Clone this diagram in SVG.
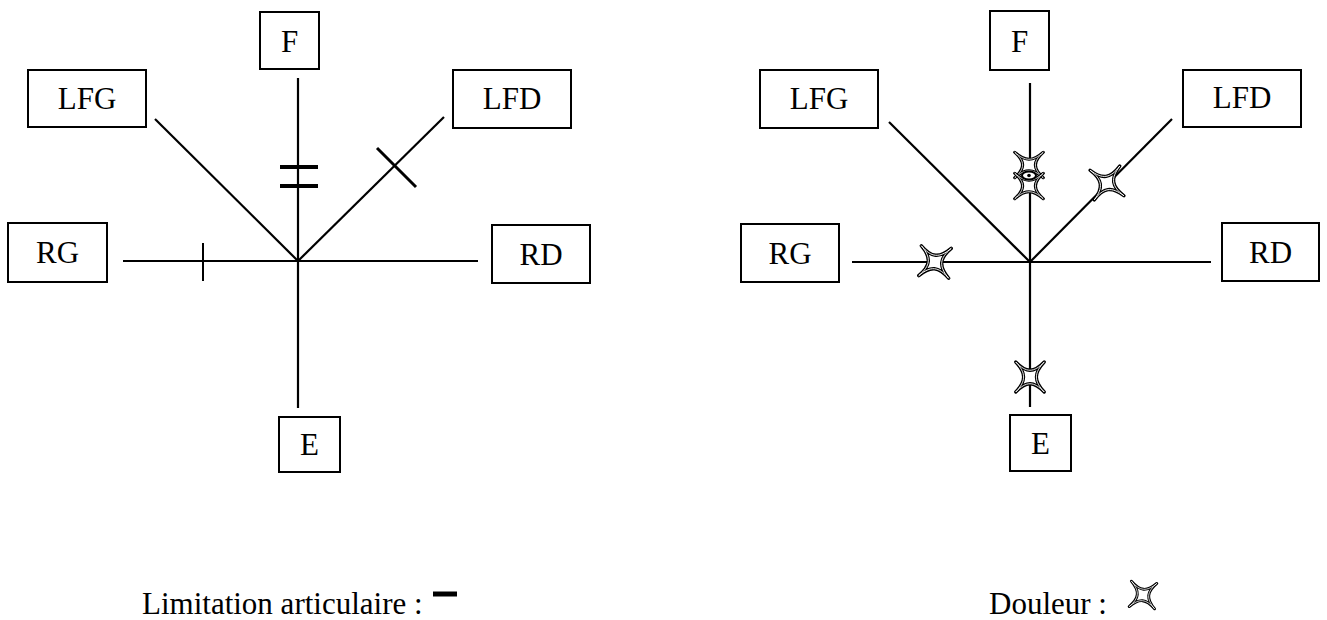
<svg xmlns="http://www.w3.org/2000/svg" width="1327" height="620" viewBox="0 0 1327 620">
<style>
.box{fill:#fff;stroke:#000;stroke-width:2}
.lbl{font-family:"Liberation Serif","Times New Roman",serif;font-size:31px;fill:#000;text-anchor:middle}
.leg{font-family:"Liberation Serif","Times New Roman",serif;font-size:31px;fill:#000}
.ln{stroke:#000;stroke-width:2.2;fill:none}
.mk{stroke:#000;fill:none}
.so{fill:#fff;stroke:#000;stroke-width:3.4;stroke-linejoin:round}
.si{fill:none;stroke:#fff;stroke-width:0.9;stroke-linejoin:round}
</style>
<defs>
<path id="sp" d="M -15 -15 C -4 -4 4 -4 15 -15 C 4 -4 4 4 15 15 C 4 4 -4 4 -15 15 C -4 4 -4 -4 -15 -15 Z"/>
<g id="star"><use href="#sp" class="so"/><use href="#sp" class="si"/></g>
</defs>
<rect width="1327" height="620" fill="#fff"/>

<g id="connectors">
  <line class="ln" x1="298" y1="78" x2="298" y2="408"/>
  <line class="ln" x1="123" y1="261" x2="478" y2="261"/>
  <line class="ln" x1="155" y1="119" x2="298" y2="261"/>
  <line class="ln" x1="298" y1="261" x2="444" y2="117"/>
  <line class="ln" x1="1030" y1="83" x2="1030" y2="407"/>
  <line class="ln" x1="852" y1="262" x2="1211" y2="262"/>
  <line class="ln" x1="889" y1="122" x2="1030" y2="262"/>
  <line class="ln" x1="1030" y1="262" x2="1172" y2="119"/>
</g>

<g id="limitation-marks">
  <line class="mk" stroke-width="4" x1="280" y1="167" x2="318" y2="167"/>
  <line class="mk" stroke-width="4" x1="280" y1="186" x2="318" y2="186"/>
  <line class="mk" stroke-width="2" x1="203" y1="243" x2="203" y2="281"/>
  <line class="mk" stroke-width="3" x1="377" y1="148" x2="416" y2="187"/>
</g>

<g id="pain-marks">
  <use href="#star" transform="translate(935,262) rotate(5)"/>
  <use href="#star" transform="translate(1107,183) rotate(-8)"/>
  <use href="#star" transform="translate(1030,377) scale(0.95,1)"/>
  <use href="#star" transform="translate(1029,165) scale(0.95,0.85)"/>
  <use href="#star" transform="translate(1029,186) scale(0.95,0.85)"/>
  <ellipse cx="1029" cy="175.5" rx="7" ry="4" fill="#fff" stroke="#000" stroke-width="2"/>
  <circle cx="1029" cy="175.5" r="1.8" fill="#000"/>
</g>

<g id="L-F"><rect class="box" x="260" y="12" width="59" height="57"/><text class="lbl" x="289.5" y="52">F</text></g>
<g id="L-LFG"><rect class="box" x="28" y="70" width="118" height="57"/><text class="lbl" x="87" y="109">LFG</text></g>
<g id="L-LFD"><rect class="box" x="453" y="70" width="118" height="58"/><text class="lbl" x="512" y="109">LFD</text></g>
<g id="L-RG"><rect class="box" x="8" y="223" width="99" height="59"/><text class="lbl" x="57.5" y="263">RG</text></g>
<g id="L-RD"><rect class="box" x="492" y="225" width="98" height="58"/><text class="lbl" x="541" y="265">RD</text></g>
<g id="L-E"><rect class="box" x="279" y="417" width="61" height="55"/><text class="lbl" x="309.5" y="455">E</text></g>

<g id="R-F"><rect class="box" x="990" y="11" width="59" height="59"/><text class="lbl" x="1019.5" y="52">F</text></g>
<g id="R-LFG"><rect class="box" x="760" y="70" width="118" height="58"/><text class="lbl" x="819" y="109">LFG</text></g>
<g id="R-LFD"><rect class="box" x="1183" y="70" width="118" height="57"/><text class="lbl" x="1242" y="108">LFD</text></g>
<g id="R-RG"><rect class="box" x="741" y="224" width="98" height="58"/><text class="lbl" x="790" y="264">RG</text></g>
<g id="R-RD"><rect class="box" x="1222" y="223" width="97" height="58"/><text class="lbl" x="1270.5" y="263">RD</text></g>
<g id="R-E"><rect class="box" x="1010" y="415" width="61" height="56"/><text class="lbl" x="1040.5" y="454">E</text></g>

<g id="legend-limitation">
  <text class="leg" x="142" y="614">Limitation articulaire :</text>
  <line class="mk" stroke-width="5" x1="433" y1="594" x2="457" y2="594"/>
</g>
<g id="legend-douleur">
  <text class="leg" x="989" y="614">Douleur :</text>
  <use href="#star" transform="translate(1143,595) scale(0.85) rotate(5)"/>
</g>
</svg>
